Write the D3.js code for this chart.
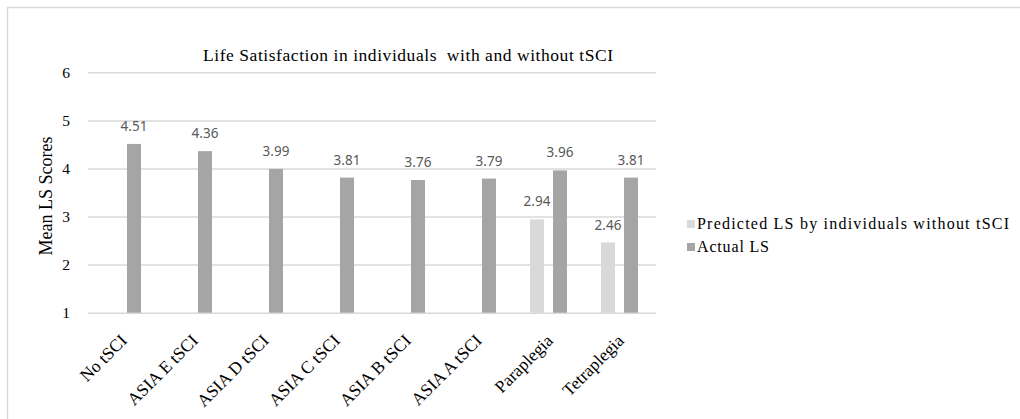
<!DOCTYPE html>
<html>
<head>
<meta charset="utf-8">
<script src="https://cdn.jsdelivr.net/npm/d3@7"></script>
<style>
  html, body { margin: 0; padding: 0; background: #fff; }
  svg { display: block; }
</style>
</head>
<body>
<script>
const categories = ["No tSCI", "ASIA E tSCI", "ASIA D tSCI", "ASIA C tSCI", "ASIA B tSCI", "ASIA A tSCI", "Paraplegia", "Tetraplegia"];
const predictedLS = [null, null, null, null, null, null, 2.94, 2.46];
const actualLS = [4.51, 4.36, 3.99, 3.81, 3.76, 3.79, 3.96, 3.81];
const seriesNames = ["Predicted LS by individuals without tSCI", "Actual LS"];
const seriesColors = ["#d9d9d9", "#a5a5a5"];
const yTicks = [1, 2, 3, 4, 5, 6];
const chartTitle = "Life Satisfaction in individuals  with and without tSCI";
const yTitle = "Mean LS Scores";

const W = 1020, H = 419;
const serif = "'Liberation Serif', 'Times New Roman', serif";
const svg = d3.select("body").append("svg").attr("width", W).attr("height", H);

// outer chart border (extends beyond the picture on right and bottom)
svg.append("rect").attr("x", 7.5).attr("y", 7.5).attr("width", 1200).attr("height", 800)
  .attr("fill", "none").attr("stroke", "#d9d9d9").attr("stroke-width", 1.5);

const x = d3.scaleBand().domain(categories).range([88, 656]).padding(0);
const x1 = d3.scaleBand().domain([0, 1]).range([-19.5, 17.5]).paddingInner(0.391).paddingOuter(0);
const y = d3.scaleLinear().domain([1, 6]).range([312.7, 72.3]);

// gridlines + y tick labels
const yAxis = d3.axisLeft(y).tickValues(yTicks).tickSize(-(656 - 88)).tickFormat(d3.format("d"));
const gy = svg.append("g").attr("transform", "translate(88,0)").call(yAxis);
gy.select(".domain").remove();
gy.selectAll(".tick line").attr("stroke", "#d9d9d9").attr("stroke-width", 1.5);
gy.selectAll(".tick text").attr("x", -18).attr("fill", "#000")
  .style("font-family", serif).style("font-size", "15.5px");

// bars + data labels
const series = [predictedLS, actualLS];
series.forEach((vals, si) => {
  const data = categories.map((c, i) => ({c, v: vals[i]})).filter(d => d.v != null);
  const g = svg.append("g");
  g.selectAll("rect").data(data).enter().append("rect")
    .attr("x", d => x(d.c) + x.bandwidth() / 2 + x1(si))
    .attr("width", x1.bandwidth())
    .attr("y", d => y(d.v))
    .attr("height", d => y(1) - y(d.v))
    .attr("fill", seriesColors[si]);
  g.selectAll("text").data(data).enter().append("text")
    .attr("x", d => x(d.c) + x.bandwidth() / 2 + x1(si) + x1.bandwidth() / 2)
    .attr("y", d => y(d.v) - 13)
    .attr("text-anchor", "middle")
    .attr("fill", "#595959")
    .style("font-family", "'Noto Sans', 'Open Sans', sans-serif")
    .style("font-size", "13.5px")
    .text(d => d3.format(".2f")(d.v));
});

// x axis labels
const xAxis = d3.axisBottom(x).tickSize(0);
const gx = svg.append("g").attr("transform", "translate(0,312.7)").call(xAxis);
gx.select(".domain").remove();
gx.selectAll(".tick text")
  .attr("text-anchor", "end")
  .attr("fill", "#000")
  .attr("dy", 0).attr("y", 0)
  .attr("transform", "translate(4.5,29) rotate(-45)")
  .style("font-family", serif)
  .style("font-size", "17.5px");

// title
svg.append("text").attr("x", 203).attr("y", 61)
  .attr("textLength", 410).attr("lengthAdjust", "spacing")
  .style("white-space", "pre")
  .style("font-family", serif).style("font-size", "17.5px")
  .attr("fill", "#000").text(chartTitle);

// y title
svg.append("text").attr("transform", "translate(52,196) rotate(-90)")
  .attr("text-anchor", "middle")
  .style("font-family", serif).style("font-size", "18px")
  .attr("fill", "#000").text(yTitle);

// legend
const lg = svg.append("g");
const legendY = [224, 247];
const legendLen = [312, 72];
seriesNames.forEach((n, i) => {
  lg.append("rect").attr("x", 687).attr("y", legendY[i] - 4).attr("width", 8).attr("height", 8)
    .attr("fill", seriesColors[i]);
  lg.append("text").attr("x", 697).attr("y", legendY[i] + 5)
    .attr("textLength", legendLen[i]).attr("lengthAdjust", "spacing")
    .style("font-family", serif).style("font-size", "16px")
    .attr("fill", "#000").text(n);
});
</script>
</body>
</html>
